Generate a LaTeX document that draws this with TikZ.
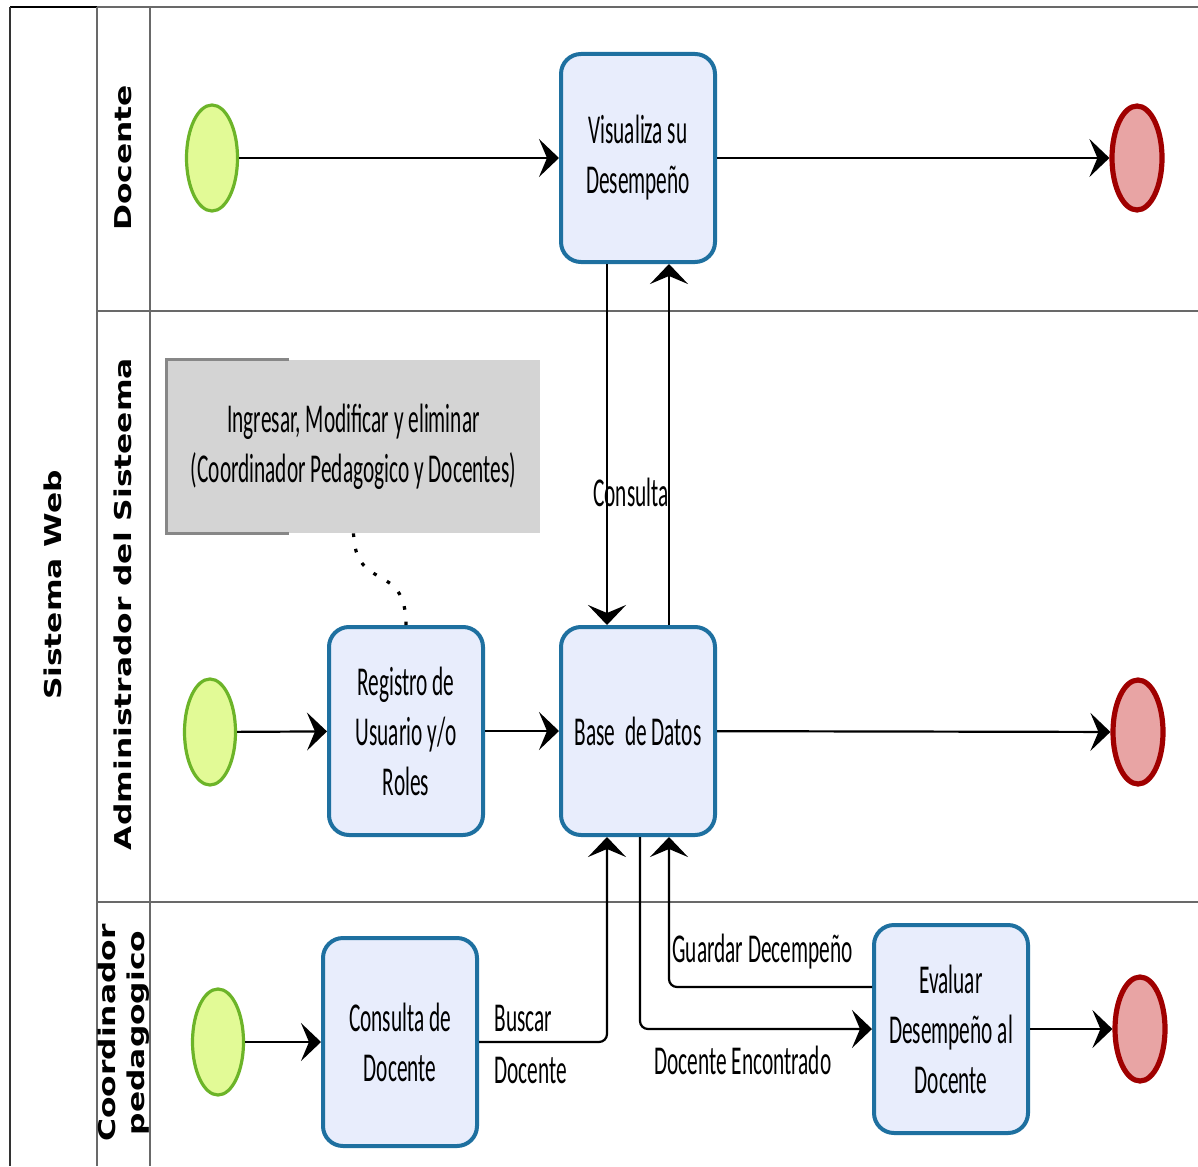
\documentclass[tikz,border=0pt]{standalone}
\usepackage{fontspec}
\setmainfont[FakeStretch=0.52]{Carlito}
\newfontfamily\lanefont[FakeStretch=1.35]{DejaVu Sans Bold}
\usetikzlibrary{shapes.geometric,arrows.meta,calc}
\definecolor{taskfill}{RGB}{232,237,252}
\definecolor{taskborder}{RGB}{30,112,160}
\definecolor{startfill}{RGB}{226,250,150}
\definecolor{startborder}{RGB}{108,180,40}
\definecolor{endfill}{RGB}{232,164,164}
\definecolor{endborder}{RGB}{160,0,0}
\definecolor{laneline}{RGB}{105,105,105}
\definecolor{notefill}{RGB}{212,212,212}
\definecolor{notebracket}{RGB}{135,135,135}
\newcommand{\tasksize}{\fontsize{20.5}{25}\selectfont}
\newcommand{\lanesize}{\lanefont\fontsize{11.6}{14.5}\selectfont}
\begin{document}
\begin{tikzpicture}[x=0.5pt,y=-0.5pt,
  task/.style={rectangle, rounded corners=10pt, draw=taskborder, line width=2pt, fill=taskfill,
    minimum width=77pt, minimum height=104pt, align=center, font=\tasksize, inner sep=2pt},
  startev/.style={ellipse, draw=startborder, fill=startfill, line width=1.6pt,
    minimum width=25.5pt, minimum height=53pt, inner sep=0pt},
  endev/.style={ellipse, draw=endborder, fill=endfill, line width=2.6pt,
    minimum width=25pt, minimum height=52pt, inner sep=0pt},
  flow/.style={draw=black, line width=1.1pt, -{Stealth[length=10pt,width=19pt,inset=4pt]}, rounded corners=4pt},
  lane/.style={draw=laneline, line width=1.2pt},
  lanelabel/.style={rotate=90, font=\lanesize, align=center, inner sep=0pt},
  lbl/.style={font=\tasksize, inner sep=0pt, text=black},
  note/.style={rectangle, fill=notefill, minimum width=186.5pt, minimum height=86.5pt,
    align=center, font=\tasksize, inner sep=2pt},
  bracket/.style={draw=notebracket, line width=1.5pt},
  assoc/.style={draw=black, line width=1.6pt, dash pattern=on 1.8pt off 6pt}
]
\useasboundingbox (0,0) rectangle (1198,1166);
\fill[white] (0,0) rectangle (1198,1166);

% pool and lanes
\draw[lane] (10,7) -- (1198,7);
\draw[black, line width=1.3pt] (10,7) -- (97,7);
\draw[black!80, line width=1.3pt] (10,7) -- (10,1166);
\draw[lane] (97,7) -- (97,1166);
\draw[lane] (150,7) -- (150,1166);
\draw[lane] (97,311) -- (1198,311);
\draw[lane] (97,902) -- (1198,902);

\node[lanelabel] (pool) at (53,585) {Sistema Web};
\node[lanelabel] (l1) at (123,158) {Docente};
\node[lanelabel] (l2) at (123,604) {Administrador del Sisteema};
\node[lanelabel] (l3) at (124,1033) {Coordinador\\pedagogico};

% note
\node[note] (note) at (353.5,446.5) {Ingresar, Modificar y eliminar\\(Coordinador Pedagogico y Docentes)};
\draw[bracket] ([xshift=61pt]note.north west) -- (note.north west) -- (note.south west) -- ([xshift=61pt]note.south west);

% events
\node[startev] (s1) at (212,158) {};
\node[startev] (s2) at (210,732) {};
\node[startev] (s3) at (218,1042) {};
\node[endev] (e1) at (1137,158) {};
\node[endev] (e2) at (1138,732) {};
\node[endev] (e3) at (1140,1029) {};

% tasks
\node[task] (vis) at (638,158) {Visualiza su\\Desempeño};
\node[task] (reg) at (406,731) {Registro de\\Usuario y/o\\Roles};
\node[task] (base) at (638,731) {Base~ de Datos};
\node[task] (cons) at (400,1042) {Consulta de\\Docente};
\node[task] (eval) at (951,1029) {Evaluar\\Desempeño al\\Docente};

% association
\draw[assoc] (note.south) .. controls ($(note.south)+(2,60)$) and ($(reg.north)+(0,-65)$) .. (reg.north);

% flows
\draw[flow] (s1) -- (vis);
\draw[flow] (vis) -- (e1);
\draw[flow] ([xshift=-15.5pt]vis.south) -- ([xshift=-15.5pt]base.north);
\draw[flow] ([xshift=15.5pt]base.north) -- ([xshift=15.5pt]vis.south);
\draw[flow] (s2) -- (reg);
\draw[flow] (reg) -- (base);
\draw[flow] (base) -- (e2);
\draw[flow] (s3) -- (cons);
\draw[flow] (cons.east) -| ([xshift=-15.5pt]base.south);
\draw[flow] ([xshift=1pt]base.south) |- (eval.west);
\draw[flow] ([yshift=21pt]eval.west) -| ([xshift=15.5pt]base.south);
\draw[flow] (eval) -- (e3);

% labels
\node[lbl] (tconsulta) at (631,492) {Consulta};
\node[lbl, anchor=west] (tbuscar) at (494,1018) {Buscar};
\node[lbl, anchor=west] (tdoc) at (494,1070) {Docente};
\node[lbl] (tenc) at (743,1060) {Docente Encontrado};
\node[lbl, anchor=west] (tguard) at (672,952) {Guardar Decempeño};
\end{tikzpicture}
\end{document}
